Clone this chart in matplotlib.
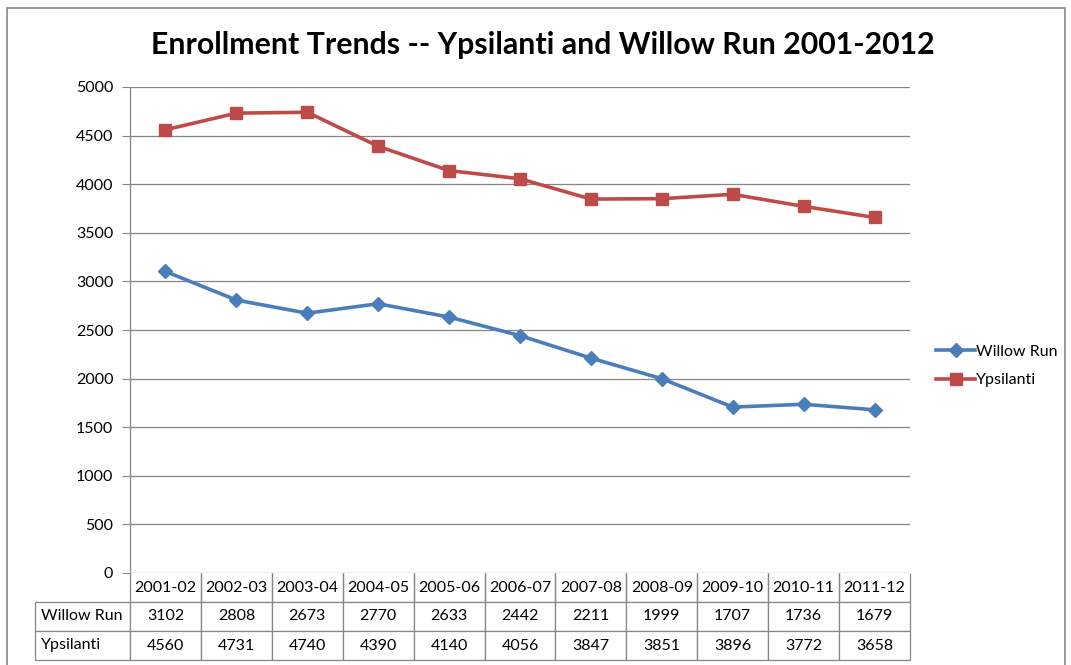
import matplotlib
matplotlib.use("Agg")
from matplotlib import pyplot as plt
from matplotlib.patches import Rectangle

years = ["2001-02", "2002-03", "2003-04", "2004-05", "2005-06", "2006-07",
         "2007-08", "2008-09", "2009-10", "2010-11", "2011-12"]
willow_run = [3102, 2808, 2673, 2770, 2633, 2442, 2211, 1999, 1707, 1736, 1679]
ypsilanti = [4560, 4731, 4740, 4390, 4140, 4056, 3847, 3851, 3896, 3772, 3658]
yticks = [0, 500, 1000, 1500, 2000, 2500, 3000, 3500, 4000, 4500, 5000]

plt.rcParams["font.family"] = ["Lato", "DejaVu Sans"]
W, H = 1071, 665
fig = plt.figure(figsize=(W / 100, H / 100), dpi=100)

grid_c = "#868686"
blue = "#4A7EBB"
red = "#BE4B48"

# outer chart border
fig.patches.append(Rectangle((7 / W, -0.02), 1058 / W, 1.02 - 8 / H, transform=fig.transFigure,
                             fill=False, edgecolor=grid_c, lw=1.2))

ax = fig.add_axes([130 / W, 1 - 573 / H, 780 / W, 486 / H])
x = list(range(len(years)))
ax.plot(x, willow_run, color=blue, lw=2.6, marker="D", ms=7.5, label="Willow Run")
ax.plot(x, ypsilanti, color=red, lw=2.6, marker="s", ms=9, label="Ypsilanti")
ax.set_xlim(-0.5, len(years) - 0.5)
ax.set_ylim(0, 5000)
ax.set_yticks(yticks)
ax.set_xticks([])
ax.yaxis.grid(True, color=grid_c, lw=0.9)
ax.set_axisbelow(True)
for s in ["top", "right", "bottom"]:
    ax.spines[s].set_visible(False)
ax.spines["left"].set_color(grid_c)
ax.spines["left"].set_linewidth(0.9)
ax.tick_params(axis="y", length=6, color=grid_c, labelsize=11.5, pad=6)

fig.text(543 / W, 1 - 45 / H, "Enrollment Trends -- Ypsilanti and Willow Run 2001-2012",
         ha="center", va="center", fontsize=21.8, fontweight="bold")

fig.legend(loc="center left", bbox_to_anchor=(922 / W, 1 - 366 / H), frameon=False,
           fontsize=11.5, handlelength=2.4, labelspacing=0.9, handletextpad=0.1)

# data table under the plot
tax = fig.add_axes([35 / W, 1 - 660 / H, 875 / W, 87 / H])
tax.axis("off")
rows = [[""] + years,
        ["Willow Run"] + [str(v) for v in willow_run],
        ["Ypsilanti"] + [str(v) for v in ypsilanti]]
cw = [95 / 875] + [780 / 11 / 875] * len(years)
tab = tax.table(cellText=rows, colWidths=cw, bbox=[0, 0, 1, 1], cellLoc="center")
tab.auto_set_font_size(False)
for (r, c), cell in tab.get_celld().items():
    cell.set_edgecolor(grid_c)
    cell.set_linewidth(0.9)
    cell.get_text().set_fontsize(11.5)
    if r == 0:
        cell.visible_edges = "" if c == 0 else "LRB"
    if c == 0:
        cell.get_text().set_ha("left")
        cell.PAD = 0.06

fig.savefig("out.png", dpi=100)
